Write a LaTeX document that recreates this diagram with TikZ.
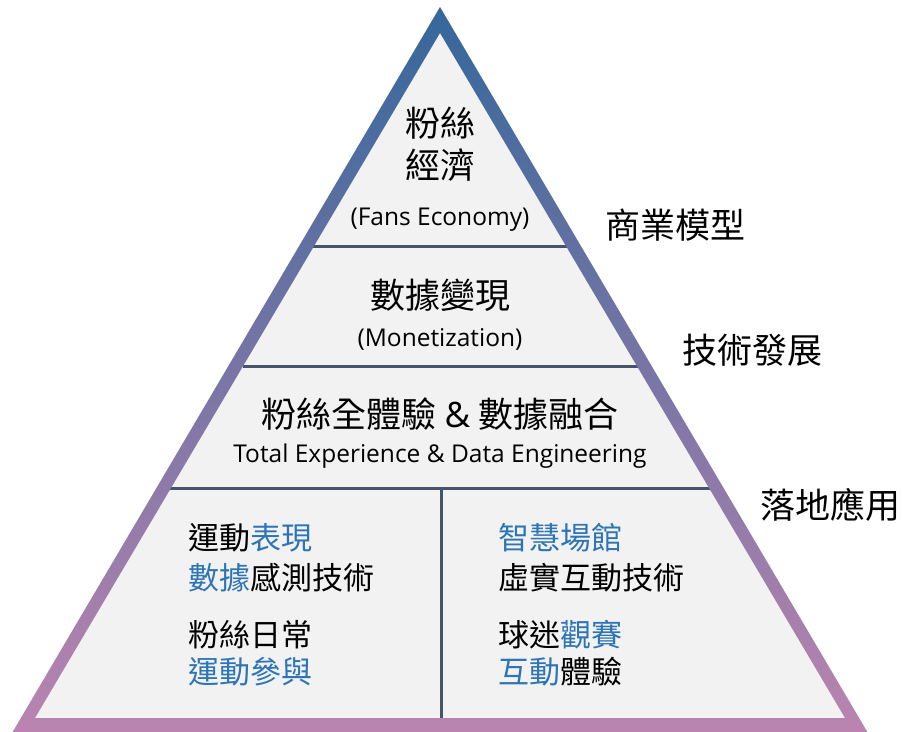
\documentclass[tikz,border=0pt]{standalone}
\usepackage{fontspec}
\setmainfont{Open Sans}
\newfontfamily\cjk{Noto Sans CJK TC}
\usetikzlibrary{positioning}
\definecolor{edgetop}{HTML}{35679B}
\definecolor{edgemid}{HTML}{7870A5}
\definecolor{edgebot}{HTML}{BB84B0}
\definecolor{layerfill}{HTML}{F2F2F2}
\definecolor{divider}{HTML}{44546A}
\definecolor{hlblue}{HTML}{2E75B6}
\newcommand{\hl}[1]{\textcolor{hlblue}{#1}}

\begin{document}
\begin{tikzpicture}[x=1pt,y=-1pt,
    title/.style={font=\cjk\fontsize{35}{42}\selectfont,align=center,inner sep=0pt},
    subtitle/.style={font=\fontsize{24.5}{28}\selectfont,inner sep=0pt},
    item/.style={font=\cjk\fontsize{31}{37}\selectfont,anchor=west,inner sep=0pt},
    side/.style={font=\cjk\fontsize{35}{40}\selectfont,anchor=west,inner sep=0pt},
    divline/.style={draw=divider,line width=3pt}]
    \useasboundingbox (0,0) rectangle (902,731);
    % pyramid body
    \fill[layerfill] (440,33) -- (35,718) -- (845,718) -- cycle;
    % layer dividers
    \coordinate (d1l) at (312,246);
    \coordinate (d1r) at (572,246);
    \coordinate (d2l) at (243,366);
    \coordinate (d2r) at (642,366);
    \coordinate (d3l) at (170,488);
    \coordinate (d3r) at (713,488);
    \coordinate (split) at (441,488);
    \coordinate (base) at (441,722);
    \draw[divline] (d1l) -- (d1r);
    \draw[divline] (d2l) -- (d2r);
    \draw[divline] (d3l) -- (d3r);
    \draw[divline] (split) -- (base);
    % outline with colour fade
    \shade[top color=edgetop,middle color=edgemid,bottom color=edgebot,even odd rule]
        (440,7) -- (12,733) -- (868,733) -- cycle
        (440,33) -- (35,718) -- (845,718) -- cycle;

    \node (fans) [title] at (440,144) {粉絲\\經濟};
    \node (fansEn) [subtitle] at (440,220) {(Fans Economy)};
    \node (money) [title] at (440,295) {數據變現};
    \node (moneyEn) [subtitle] at (440,339) {(Monetization)};
    \node (fusion) [title] at (440,414) {粉絲全體驗 {\fontspec{Open Sans}\&} 數據融合};
    \node (fusionEn) [subtitle] at (440,456) {Total Experience \& Data Engineering};

    \node (l1) [item] at (188,538) {運動\hl{表現}};
    \node (l2) [item] at (188,578) {\hl{數據}感測技術};
    \node (l3) [item] at (188,635) {粉絲日常};
    \node (l4) [item] at (188,672) {\hl{運動參與}};
    \node (r1) [item] at (498,538) {\hl{智慧場館}};
    \node (r2) [item] at (498,578) {虛實互動技術};
    \node (r3) [item] at (498,635) {球迷\hl{觀賽}};
    \node (r4) [item] at (498,672) {\hl{互動}體驗};

    \node (biz) [side] at (605,225) {商業模型};
    \node (tech) [side] at (682,350) {技術發展};
    \node (land) [side] at (760,505) {落地應用};
\end{tikzpicture}
\end{document}
